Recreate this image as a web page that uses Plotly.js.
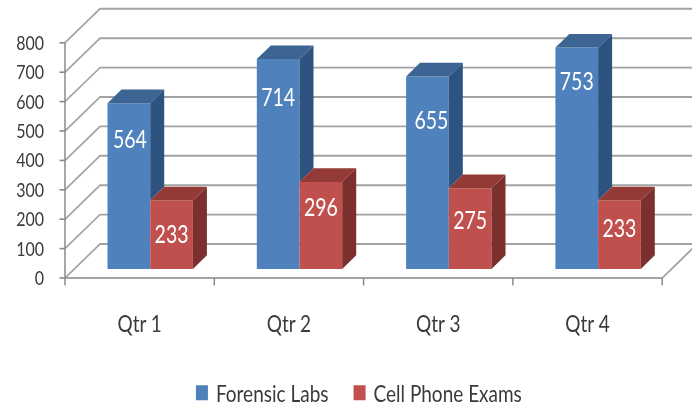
<!DOCTYPE html>
<html><head><meta charset="utf-8">
<script src="https://cdn.plot.ly/plotly-3.0.1.min.js"></script>
<style>html,body{margin:0;padding:0;background:#fff;width:692px;height:409px}html{overflow:hidden}#chart{width:692px;transform-origin:0 0;filter:blur(0.45px)}</style>
</head><body><div id="chart"></div>
<script>
// ---- data ----
const quarters = ["Qtr 1", "Qtr 2", "Qtr 3", "Qtr 4"];
const forensicLabs = [564, 714, 655, 753];
const cellPhoneExams = [233, 296, 275, 233];
const valueTicks = [0, 100, 200, 300, 400, 500, 600, 700, 800];

// ---- 3D look, in axis units ----
const H = 340, SY = 1.25; // the reference is stretched vertically
const PXX = 149.3, PXY = 0.294;
const wallDX = 35 / PXX, wallDY = 34 / PXY;
const barDX = 14 / PXX, barDY = 13.7 / PXY;
const barBase = 9 / PXY, barW = 42.7 / PXX;
const blueOff = 0.4277, redOff = 0.7137;
const blueDrop = [39, 41, 46, 36].map(p => p / PXY);
const redDrop = [36, 28, 35, 30].map(p => p / PXY);
const blueNudge = [1, 0, 4, 0].map(p => p / PXX);
const redNudge = [0, 0, 0, 0];
const FONT = 'Lato, "Open Sans", sans-serif';
const INK = '#3a3a3a', GRID = '#a3a3a3', AXIS = '#8a8a8a';
const LEFT = 58, xMin = -(65 - LEFT) / PXX, xMax = (692 - 65) / PXX;
const yMin = -9 / PXY, yMax = (278 - 5) / PXY;

const chart = document.getElementById('chart');
chart.style.height = H + 'px';
chart.style.transform = 'scaleY(' + SY + ')';

const shapes = [];
const line = (xs, ys, color, w) => shapes.push({type: 'path', layer: 'below', xref: 'x', yref: 'y',
  path: xs.map((x, i) => (i ? 'L' : 'M') + x + ',' + ys[i]).join(' '), line: {color, width: w}});
valueTicks.forEach(v => {
  line([0, wallDX, xMax], [v, v + wallDY, v + wallDY], GRID, 1.5);
  line([-5.5 / PXX, 0], [v, v], AXIS, 1.3);
});
line([0, 4, 4 + wallDX], [0, 0, wallDY], GRID, 1.6);
line([0, 0], [0, 800], AXIS, 1.5);
[0, 1, 2, 3, 4].forEach(i => line([i, i], [0, -7.5 / PXY], AXIS, 1.5));

function faces(offs, vals, upTo, fill) { // side faces and top faces
  const side = {x: [], y: []}, top = {x: [], y: []};
  vals.forEach((v, i) => {
    const l = i + offs - barW / 2, r = i + offs + barW / 2, t = barBase + v;
    const lo = barBase + (upTo ? upTo[i] : 0);
    side.x.push(r, r + barDX, r + barDX, r, null);
    side.y.push(t, t + barDY, lo + barDY, lo, null);
    top.x.push(l, l + barDX, r + barDX, r, null);
    top.y.push(t, t + barDY, t + barDY, t, null);
  });
  const mk = (o, c) => ({type: 'scatter', mode: 'lines', x: o.x, y: o.y, fill: 'toself', fillcolor: c,
    line: {width: 0, color: c}, showlegend: false, hoverinfo: 'skip'});
  return [mk(side, fill[0]), mk(top, fill[1])];
}
const idx = quarters.map((q, i) => i);
const bar = (name, offs, vals, color) => ({type: 'bar', name, x: idx.map(i => i + offs), y: vals,
  base: vals.map(() => barBase), width: barW, marker: {color, line: {width: 0}}, hoverinfo: 'y'});
const labels = (offs, vals, drop, nudge) => ({type: 'scatter', mode: 'text', x: idx.map(i => i + offs + nudge[i]),
  y: vals.map((v, i) => barBase + v - drop[i]), text: vals.map(String), textposition: 'middle center',
  textfont: {family: FONT, size: 19.5, color: '#ffffff'}, showlegend: false, hoverinfo: 'skip'});

const traces = [
  bar('Forensic Labs', blueOff, forensicLabs, '#4F81BD'),
  bar('Cell Phone Exams', redOff, cellPhoneExams, '#C0504D'),
  ...faces(blueOff, forensicLabs, cellPhoneExams, ['#2F5380', '#3D6594']),
  ...faces(redOff, cellPhoneExams, null, ['#7B302E', '#933A37']),
  labels(blueOff, forensicLabs, blueDrop, blueNudge),
  labels(redOff, cellPhoneExams, redDrop, redNudge)
];
const layout = {
  width: 692, height: H, autosize: false,
  margin: {l: LEFT, r: 0, t: 0, b: 0, pad: 0},
  paper_bgcolor: '#fff', plot_bgcolor: 'rgba(0,0,0,0)',
  barmode: 'overlay', shapes,
  xaxis: {type: 'linear', range: [xMin, xMax], tickvals: idx.map(i => i + 0.5), ticktext: quarters,
    ticks: '', showgrid: false, zeroline: false, showline: false, ticklabelstandoff: 16,
    tickfont: {family: FONT, size: 19, color: INK}},
  yaxis: {domain: [(H - 287 / SY) / H, (H - 5 / SY) / H], range: [yMin, yMax], tickvals: valueTicks, ticks: '',
    showgrid: false, zeroline: false, showline: false, ticklabelstandoff: 13,
    tickfont: {family: FONT, size: 16, color: INK}},
  legend: {orientation: 'h', x: 0.186, xanchor: 'left', y: (H - 393 / SY) / H, yanchor: 'middle',
    font: {family: FONT, size: 19, color: INK}, bgcolor: 'rgba(0,0,0,0)', traceorder: 'normal'},
  showlegend: true
};
Plotly.newPlot('chart', traces, layout, {displayModeBar: false, staticPlot: true}).then(() => {
  // legend swatches sit closer to their text in the reference
  chart.querySelectorAll('.legend .legendsymbols').forEach(s => s.setAttribute('transform', 'translate(6,0)'));
});
</script></body></html>
